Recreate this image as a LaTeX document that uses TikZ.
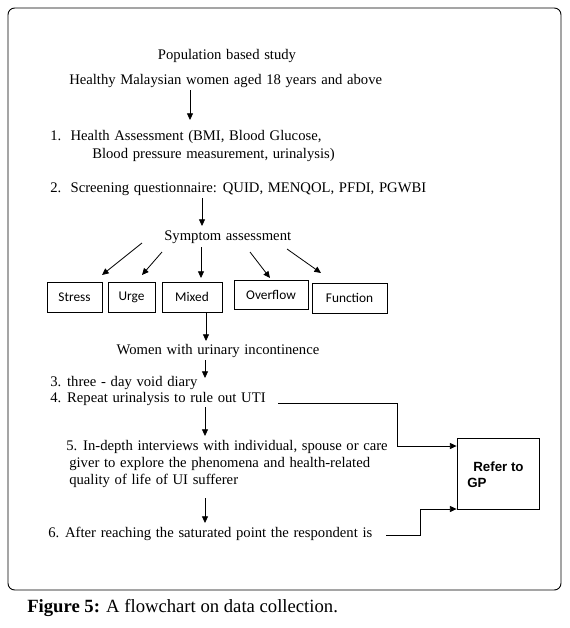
\documentclass[tikz,border=0pt]{standalone}
\usepackage{fontspec}
\setmainfont{Liberation Serif}
\newfontfamily\boxfont{Carlito}
\newfontfamily\arialfont{Liberation Sans}
\usetikzlibrary{arrows.meta}
\newcommand{\reffont}{\fontsize{11}{13}\selectfont\spaceskip=3.5pt plus 1pt minus 0.5pt\relax}
\begin{document}
\begin{tikzpicture}[x=0.75pt,y=-0.75pt,
  txt/.style={anchor=west,inner sep=0pt,font=\reffont},
  ctxt/.style={inner sep=0pt,font=\reffont},
  cat/.style={draw,line width=0.6pt,inner sep=0pt,font=\boxfont\fontsize{10}{12}\selectfont},
  arr/.style={line width=0.6pt,-{Triangle[length=5pt,width=4.5pt]}},
  ln/.style={line width=0.6pt}]
\useasboundingbox (0,0) rectangle (570,628);
\draw[line width=0.7pt,rounded corners=5pt] (8,8) rectangle (561,590);

\node[ctxt] (pop) at (227,56) {Population based study};
\node[txt] (healthy) at (69,81) {Healthy Malaysian women aged 18 years and above};
\coordinate (a1s) at (190,90);
\coordinate (a1e) at (190,120);
\draw[arr] (a1s) -- (a1e);
\node[txt] (h1) at (50,137) {1.\ \ Health Assessment (BMI, Blood Glucose,};
\node[txt] (h2) at (92,155) {Blood pressure measurement, urinalysis)};
\node[txt] (q) at (50,189) {2.\ \ Screening questionnaire: QUID, MENQOL, PFDI, PGWBI};
\coordinate (a2s) at (202,198);
\coordinate (a2e) at (202,226);
\draw[arr] (a2s) -- (a2e);
\node[txt] (sym) at (164,237) {Symptom assessment};

\node[cat,minimum width=55*0.75pt,minimum height=30*0.75pt] (stress) at (74.5,297) {Stress};
\node[cat,minimum width=47*0.75pt,minimum height=30*0.75pt] (urge) at (131.5,297) {Urge};
\node[cat,minimum width=60*0.75pt,minimum height=30*0.75pt] (mixed) at (192,297) {Mixed};
\node[cat,minimum width=74*0.75pt,minimum height=29*0.75pt] (over) at (271,295) {Overflow};
\node[cat,minimum width=75*0.75pt,minimum height=30*0.75pt] (func) at (349.5,298) {Function};

\coordinate (b1s) at (142,243);
\coordinate (b1e) at (102,275);
\coordinate (b2s) at (162,252);
\coordinate (b2e) at (142,275);
\coordinate (b3s) at (201,247);
\coordinate (b3e) at (201,278);
\coordinate (b4s) at (250,252);
\coordinate (b4e) at (270,278);
\coordinate (b5s) at (287,249);
\coordinate (b5e) at (321,273);
\draw[arr] (b1s) -- (b1e);
\draw[arr] (b2s) -- (b2e);
\draw[arr] (b3s) -- (b3e);
\draw[arr] (b4s) -- (b4e);
\draw[arr] (b5s) -- (b5e);

\node[ctxt] (women) at (218,351) {Women with urinary incontinence};
\coordinate (c1e) at (206,341);
\draw[arr] (mixed.south -| c1e) -- (c1e);
\coordinate (c2s) at (205,360);
\coordinate (c2e) at (205,378);
\draw[arr] (c2s) -- (c2e);
\node[txt] (d3) at (50,383) {3. three - day void diary};
\node[txt] (d4) at (50,399) {4. Repeat urinalysis to rule out UTI};
\coordinate (c3s) at (205,407);
\coordinate (c3e) at (205,436);
\draw[arr] (c3s) -- (c3e);
\node[txt] (i1) at (66,447) {5. In-depth interviews with individual, spouse or care};
\node[txt] (i2) at (69,464) {giver to explore the phenomena and health-related};
\node[txt] (i3) at (69,481) {quality of life of UI sufferer};
\coordinate (c4s) at (205,498);
\coordinate (c4e) at (205,523);
\draw[arr] (c4s) -- (c4e);
\node[txt] (s6) at (48,534) {6. After reaching the saturated point the respondent is};

\node[draw,line width=0.6pt,minimum width=82*0.75pt,minimum height=71*0.75pt,inner sep=0pt] (gp) at (498,473.5) {};
\node[anchor=west,inner sep=0pt,font=\arialfont\bfseries\fontsize{10}{12}\selectfont] (gpt1) at (473,467) {Refer to};
\node[anchor=west,inner sep=0pt,font=\arialfont\bfseries\fontsize{10}{12}\selectfont] (gpt2) at (467,483) {GP};

\coordinate (r1s) at (278,403);
\coordinate (r1m) at (397,403);
\coordinate (r2s) at (386,535);
\coordinate (r2m) at (420,535);
\draw[arr] (r1s) -- (r1m) |- (gp.west |- 0,446);
\draw[arr] (r2s) -- (r2m) |- (gp.west |- 0,509);

\node[anchor=west,inner sep=0pt,font=\fontsize{14}{16}\selectfont] (cap) at (27,608) {\textbf{Figure 5:} A flowchart on data collection.};
\end{tikzpicture}
\end{document}
